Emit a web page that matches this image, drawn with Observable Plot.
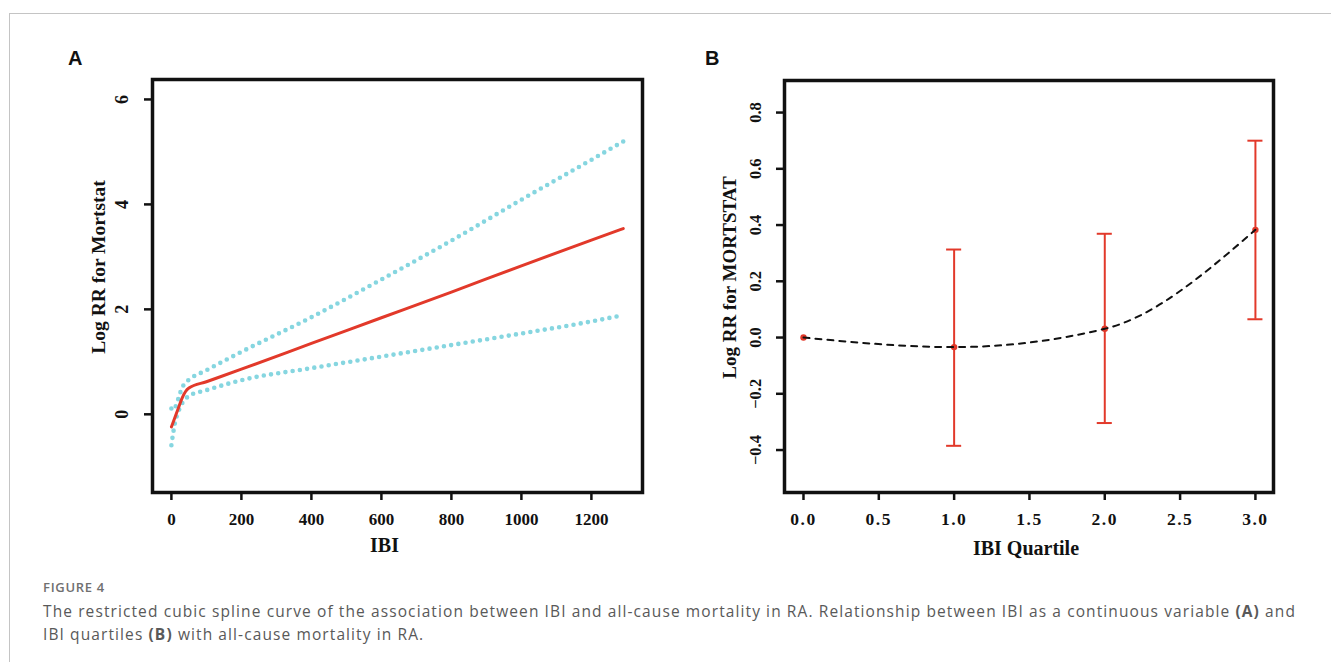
<!DOCTYPE html>
<html>
<head>
<meta charset="utf-8">
<script src="https://cdn.jsdelivr.net/npm/d3@7"></script>
<script src="https://cdn.jsdelivr.net/npm/@observablehq/plot@0.6"></script>
<style>
  html, body { margin: 0; padding: 0; background: #fff; }
  #root { position: relative; width: 1331px; height: 662px; overflow: hidden; background: #fff; }
  #border { position: absolute; left: 9px; top: 13px; width: 1340px; height: 700px;
            border-top: 1.5px solid #c4c4c4; border-left: 1.5px solid #c4c4c4; }
  .panel { position: absolute; top: 0; }
  .plabel { position: absolute; font-family: "Liberation Sans", Arial, sans-serif; font-weight: bold;
            font-size: 20px; line-height: 20px; color: #111; }
  #fig { position: absolute; left: 43px; top: 581px; font-family: "Open Sans", sans-serif;
         font-weight: 600; font-size: 13px; line-height: 12.5px; letter-spacing: 0.7px; color: #707070; }
  #cap { position: absolute; left: 43px; top: 599.5px; font-family: "Open Sans", sans-serif;
         font-size: 15.5px; line-height: 23px; letter-spacing: 1.1px; color: #595959; white-space: nowrap; }
  #cap b { font-weight: 700; }
</style>
</head>
<body>
<div id="root">
  <div id="border"></div>
  <div id="panelA" class="panel" style="left:0px"></div>
  <div id="panelB" class="panel" style="left:660px"></div>
  <div class="plabel" style="left:68px; top:48px">A</div>
  <div class="plabel" style="left:705px; top:48px">B</div>
  <div id="fig">FIGURE 4</div>
  <div id="cap">The restricted cubic spline curve of the association between IBI and all-cause mortality in RA. Relationship between IBI as a continuous variable <b>(A)</b> and<br>IBI quartiles <b>(B)</b> with all-cause mortality in RA.</div>
</div>
<script>
// ---- Panel A data: restricted cubic spline ----
const ibi      = [0, 5, 10, 20, 30, 40, 50, 100, 200, 400, 600, 800, 1000, 1200, 1291];
const rrFit    = [-0.24, -0.15, -0.06, 0.12, 0.30, 0.43, 0.50, 0.62, 0.86, 1.35, 1.84, 2.33, 2.83, 3.32, 3.54];
const rrUpper  = [0.11, 0.08, 0.12, 0.30, 0.50, 0.60, 0.66, 0.84, 1.19, 1.85, 2.57, 3.31, 4.09, 4.85, 5.20];
const rrLower  = [-0.59, -0.36, -0.17, 0.05, 0.20, 0.29, 0.35, 0.46, 0.65, 0.88, 1.10, 1.32, 1.54, 1.77, 1.89];
const xTicksA  = [0, 200, 400, 600, 800, 1000, 1200];
const yTicksA  = [0, 2, 4, 6];

// ---- Panel B data: quartiles ----
const quartile = [0, 1, 2, 3];
const logRR    = [0, -0.034, 0.031, 0.383];
const ciLow    = [null, -0.385, -0.304, 0.065];
const ciHigh   = [null, 0.313, 0.369, 0.700];
const xTicksB  = [0, 0.5, 1, 1.5, 2, 2.5, 3];
const yTicksB  = [-0.4, -0.2, 0, 0.2, 0.4, 0.6, 0.8];

const RED = "#e2392a";
const CYAN = "#86d6e0";
const SERIF = "'Liberation Serif', 'Times New Roman', serif";

const splineRows = ibi.map((x, i) => ({x, fit: rrFit[i], lo: rrLower[i], hi: rrUpper[i]}));
const quartRows = quartile.map((q, i) => ({q, y: logRR[i], lo: ciLow[i], hi: ciHigh[i]}));
const barRows = quartRows.filter(d => d.lo != null);
const capHalf = 0.05;

const plotA = Plot.plot({
  width: 660, height: 560,
  marginLeft: 152, marginRight: 18, marginTop: 79, marginBottom: 68,
  style: {fontFamily: SERIF, fontWeight: "bold", color: "#111", background: "transparent"},
  x: {domain: [-54, 1346]},
  y: {domain: [-1.49, 6.38]},
  marks: [
    Plot.line(splineRows, {x: "x", y: "hi", stroke: CYAN, strokeWidth: 4.6, strokeDasharray: "0,7.3", strokeLinecap: "round", curve: "monotone-x"}),
    Plot.line(splineRows, {x: "x", y: "lo", stroke: CYAN, strokeWidth: 4.6, strokeDasharray: "0,7.3", strokeLinecap: "round", curve: "monotone-x"}),
    Plot.line(splineRows, {x: "x", y: "fit", stroke: RED, strokeWidth: 3, curve: "monotone-x"}),
    Plot.axisX({ticks: xTicksA, tickSize: 8, tickPadding: 12, fontSize: 17, strokeWidth: 2.5, label: null, tickFormat: d => String(d)}),
    Plot.axisY({ticks: yTicksA, tickSize: 8, strokeWidth: 2.5, label: null, tickFormat: () => ""}),
    Plot.text(yTicksA, {y: d => d, text: d => String(d), frameAnchor: "left", dx: -30, rotate: -90, textAnchor: "middle", lineAnchor: "middle", fontSize: 18}),
    Plot.text(["IBI"], {frameAnchor: "bottom", dx: -13, dy: 53, lineAnchor: "middle", fontSize: 20}),
    Plot.text(["Log RR for Mortstat"], {frameAnchor: "left", dx: -53.5, dy: -19, rotate: -90, textAnchor: "middle", lineAnchor: "middle", fontSize: 19.5}),
    Plot.frame({stroke: "#111", strokeWidth: 3.5})
  ]
});
document.getElementById("panelA").appendChild(plotA);

const f1 = d3.format(".1f");
const plotB = Plot.plot({
  width: 671, height: 560,
  marginLeft: 124, marginRight: 58, marginTop: 80, marginBottom: 68,
  style: {fontFamily: SERIF, fontWeight: "bold", color: "#111", background: "transparent"},
  x: {domain: [-0.126, 3.12]},
  y: {domain: [-0.551, 0.914]},
  marks: [
    Plot.ruleX(barRows, {x: "q", y1: "lo", y2: "hi", stroke: RED, strokeWidth: 2}),
    Plot.ruleY(barRows, {y: "hi", x1: d => d.q - capHalf, x2: d => d.q + capHalf, stroke: RED, strokeWidth: 2}),
    Plot.ruleY(barRows, {y: "lo", x1: d => d.q - capHalf, x2: d => d.q + capHalf, stroke: RED, strokeWidth: 2}),
    Plot.dot(quartRows, {x: "q", y: "y", r: 3.2, fill: RED, stroke: "none"}),
    Plot.line(quartRows, {x: "q", y: "y", stroke: "#111", strokeWidth: 2, strokeDasharray: "6,6", curve: "monotone-x"}),
    Plot.axisX({ticks: xTicksB, tickSize: 8, tickPadding: 12, fontSize: 17.5, strokeWidth: 2.5, label: null, tickFormat: f1}),
    Plot.axisY({ticks: yTicksB, tickSize: 8, strokeWidth: 2.5, label: null, tickFormat: () => ""}),
    Plot.text(yTicksB, {y: d => d, text: d => f1(d), frameAnchor: "left", dx: -29, rotate: -90, textAnchor: "middle", lineAnchor: "middle", fontSize: 16.5}),
    Plot.text(["IBI Quartile"], {frameAnchor: "bottom", dx: -3, dy: 56, lineAnchor: "middle", fontSize: 20}),
    Plot.text(["Log RR for MORTSTAT"], {frameAnchor: "left", dx: -54.5, dy: -9, rotate: -90, textAnchor: "middle", lineAnchor: "middle", fontSize: 19}),
    Plot.frame({stroke: "#111", strokeWidth: 3.5})
  ]
});
document.getElementById("panelB").appendChild(plotB);
// spaced-out tick digits on panel B's x axis
d3.select(plotB).selectAll('g[aria-label="x-axis tick label"] text').style("letter-spacing", "1.5px");
</script>
</body>
</html>
